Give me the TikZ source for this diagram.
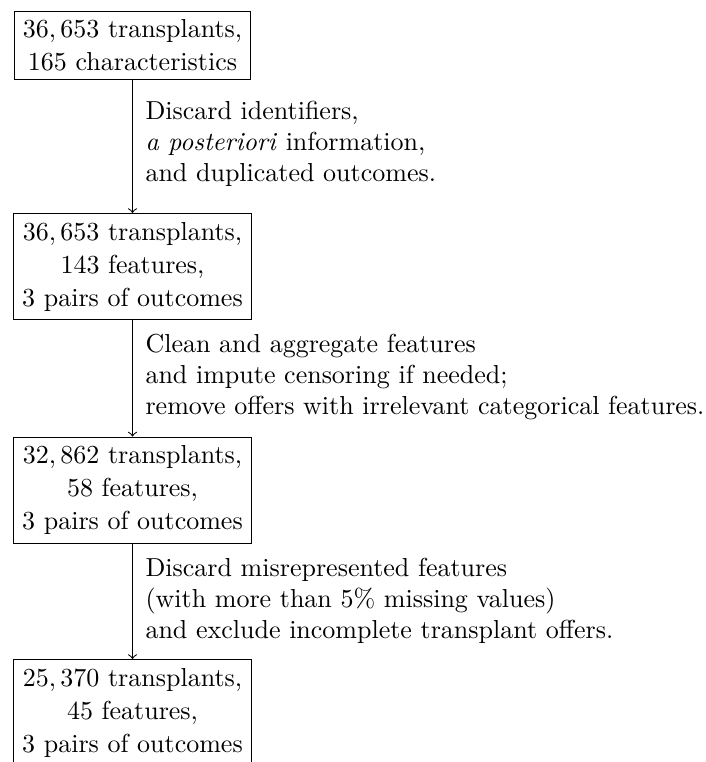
\documentclass[tikz,border=0pt]{standalone}
\begin{document}
\begin{tikzpicture}[x=0.3846pt,y=-0.3846pt,
  box/.style={draw,align=center,inner sep=3.33pt,anchor=north,font=\fontsize{10}{12.7}\selectfont},
  lab/.style={anchor=west,align=left,inner sep=0pt}]
\useasboundingbox (0,0) rectangle (705,762);
\node[box] (b1) at (132.5,10.7) {$36,653$ transplants,\\ $165$ characteristics};
\node[box] (b2) at (132.5,213) {$36,653$ transplants,\\ $143$ features,\\ $3$ pairs of outcomes};
\node[box] (b3) at (132.5,436.5) {$32,862$ transplants,\\ $58$ features,\\ $3$ pairs of outcomes};
\node[box] (b4) at (132.5,659) {$25,370$ transplants,\\ $45$ features,\\ $3$ pairs of outcomes};
\draw[->] (b1) -- (b2);
\draw[->] (b2) -- (b3);
\draw[->] (b3) -- (b4);
\node[lab] (l1) at (145,144) {Discard identifiers,\\ \emph{a posteriori} information,\\ and duplicated outcomes.};
\node[lab] (l2) at (145,377) {Clean and aggregate features\\ and impute censoring if needed;\\ remove offers with irrelevant categorical features.};
\node[lab] (l3) at (145,601) {Discard misrepresented features\\ (with more than $5\%$ missing values)\\ and exclude incomplete transplant offers.};
\end{tikzpicture}
\end{document}
